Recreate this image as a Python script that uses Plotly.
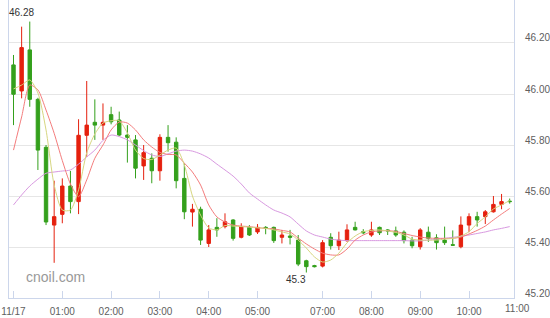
import plotly.graph_objects as go

# ---- data (10-minute candles, index positions) ----
idx = list(range(62))
opens = [46.114, 46.012, 46.173, 45.979, 45.791, 45.486, 45.528, 45.639, 45.578, 45.838,
         45.889, 45.878, 45.919, 45.898, 45.839, 45.820, 45.718, 45.748, 45.699, 45.830,
         45.811, 45.669, 45.537, 45.548, 45.414, 45.477, 45.480, 45.506, 45.438, 45.477,
         45.459, 45.477, 45.477, 45.438, 45.443, 45.427, 45.346, 45.327, 45.325, 45.438,
         45.405, 45.425, 45.477, 45.460, 45.447, 45.477, 45.467, 45.463, 45.458, 45.427,
         45.401, 45.458, 45.436, 45.427, 45.409, 45.401, 45.486, 45.519, 45.519, 45.538,
         45.567, 45.580]
highs = [46.153, 46.264, 46.284, 45.985, 45.800, 45.660, 45.669, 45.698, 45.901, 46.051,
         45.979, 45.963, 45.950, 45.931, 45.878, 45.839, 45.800, 45.767, 45.842, 45.878,
         45.830, 45.728, 45.569, 45.558, 45.486, 45.513, 45.532, 45.509, 45.493, 45.486,
         45.490, 45.482, 45.480, 45.467, 45.467, 45.447, 45.350, 45.330, 45.427, 45.454,
         45.460, 45.489, 45.499, 45.470, 45.499, 45.480, 45.470, 45.480, 45.465, 45.440,
         45.474, 45.480, 45.450, 45.480, 45.465, 45.520, 45.532, 45.538, 45.545, 45.600,
         45.608, 45.590]
lows = [45.878, 45.983, 45.950, 45.702, 45.486, 45.338, 45.493, 45.532, 45.529, 45.754,
        45.820, 45.820, 45.881, 45.835, 45.731, 45.669, 45.663, 45.650, 45.660, 45.774,
        45.630, 45.509, 45.480, 45.408, 45.400, 45.440, 45.473, 45.425, 45.434, 45.443,
        45.451, 45.450, 45.416, 45.414, 45.410, 45.325, 45.300, 45.320, 45.320, 45.390,
        45.388, 45.420, 45.465, 45.450, 45.440, 45.447, 45.447, 45.440, 45.414, 45.395,
        45.390, 45.420, 45.390, 45.408, 45.405, 45.395, 45.458, 45.480, 45.490, 45.535,
        45.548, 45.570]
closes = [45.999, 46.182, 45.979, 45.780, 45.498, 45.519, 45.639, 45.578, 45.838, 45.878,
          45.878, 45.889, 45.891, 45.839, 45.830, 45.709, 45.770, 45.699, 45.830, 45.809,
          45.660, 45.538, 45.548, 45.427, 45.467, 45.467, 45.499, 45.434, 45.480, 45.447,
          45.477, 45.473, 45.425, 45.447, 45.438, 45.333, 45.323, 45.323, 45.417, 45.405,
          45.427, 45.467, 45.467, 45.456, 45.467, 45.456, 45.463, 45.447, 45.425, 45.405,
          45.467, 45.434, 45.417, 45.417, 45.407, 45.486, 45.519, 45.506, 45.538, 45.567,
          45.578, 45.578]

ma_fast = [46.020, 46.035, 46.055, 46.004, 45.859, 45.643, 45.545, 45.545, 45.624, 45.769,
           45.843, 45.886, 45.895, 45.895, 45.847, 45.780, 45.747, 45.743, 45.761, 45.780,
           45.788, 45.722, 45.600, 45.525, 45.475, 45.467, 45.484, 45.482, 45.480, 45.478,
           45.475, 45.473, 45.467, 45.459, 45.451, 45.427, 45.396, 45.361, 45.341, 45.349,
           45.376, 45.416, 45.443, 45.460, 45.465, 45.467, 45.463, 45.457, 45.447, 45.431,
           45.427, 45.427, 45.427, 45.431, 45.434, 45.443, 45.460, 45.492, 45.518, 45.549,
           45.565, 45.582]
ma_mid = [45.780, 45.910, 46.035, 46.016, 45.937, 45.846, 45.739, 45.647, 45.597, 45.663,
          45.748, 45.800, 45.859, 45.890, 45.886, 45.859, 45.820, 45.792, 45.771, 45.763,
          45.761, 45.729, 45.694, 45.643, 45.565, 45.518, 45.498, 45.486, 45.482, 45.480,
          45.476, 45.473, 45.471, 45.465, 45.459, 45.435, 45.412, 45.392, 45.376, 45.369,
          45.369, 45.392, 45.427, 45.447, 45.459, 45.463, 45.464, 45.461, 45.453, 45.445,
          45.439, 45.435, 45.434, 45.434, 45.434, 45.439, 45.451, 45.465, 45.482, 45.506,
          45.529, 45.551]
ma_slow = [45.565, 45.604, 45.639, 45.666, 45.689, 45.694, 45.698, 45.702, 45.725, 45.753,
           45.780, 45.818, 45.839, 45.833, 45.820, 45.800, 45.778, 45.761, 45.755, 45.765,
           45.776, 45.780, 45.776, 45.765, 45.749, 45.725, 45.702, 45.678, 45.647, 45.612,
           45.588, 45.565, 45.545, 45.533, 45.518, 45.490, 45.463, 45.447, 45.439, 45.431,
           45.427, 45.425, 45.425, 45.425, 45.425, 45.425, 45.425, 45.425, 45.425, 45.424,
           45.424, 45.427, 45.431, 45.434, 45.438, 45.442, 45.447, 45.453, 45.459, 45.467,
           45.473, 45.480]

tick_pos = [0, 6, 12, 18, 24, 30, 38, 44, 50, 56]
tick_text = ["11/17", "01:00", "02:00", "03:00", "04:00", "05:00",
             "07:00", "08:00", "09:00", "10:00"]
last_tick_text = "11:00"
y_ticks = [45.2, 45.4, 45.6, 45.8, 46.0, 46.2]

RED = "#e5200e"
GREEN = "#34a01c"
FONT = "Liberation Sans, Arial, sans-serif"
LABEL = "#606060"

fig = go.Figure()
fig.add_trace(go.Candlestick(
    x=idx, open=opens, high=highs, low=lows, close=closes,
    increasing=dict(line=dict(color=RED, width=1), fillcolor=RED),
    decreasing=dict(line=dict(color=GREEN, width=1), fillcolor=GREEN),
    whiskerwidth=0, showlegend=False, hoverinfo="skip"))

for series, col in [(ma_slow, "#d898e0"), (ma_mid, "#f47c7c"), (ma_fast, "#d6d680")]:
    fig.add_trace(go.Scatter(x=idx, y=series, mode="lines",
                             line=dict(color=col, width=1, shape="spline", smoothing=0.7),
                             showlegend=False, hoverinfo="skip"))

hi = max(highs)
lo = min(lows)
hi_i = highs.index(hi)
lo_i = lows.index(lo)

def fmt(v):
    return f"{v:.2f}".rstrip("0").rstrip(".")

fig.update_layout(
    width=550, height=318,
    margin=dict(l=9, r=36, t=0, b=20),
    paper_bgcolor="white", plot_bgcolor="white",
    boxgap=0.4,
    font=dict(family=FONT, size=10, color=LABEL),
    xaxis=dict(range=[-0.553, 61.53], tickmode="array", tickvals=tick_pos, ticktext=tick_text,
               showgrid=False, zeroline=False, showline=True, linecolor="#ccd6eb",
               ticks="inside", ticklen=7, tickcolor="#ccd6eb", ticklabelstandoff=4,
               rangeslider=dict(visible=False),
               tickfont=dict(family=FONT, size=10, color=LABEL)),
    yaxis=dict(side="right", range=[45.2, 46.3686], tickmode="array", tickvals=y_ticks,
               ticktext=[f"{v:.2f}" for v in y_ticks],
               showgrid=True, gridcolor="#e6e6e6", gridwidth=1, zeroline=False,
               showline=True, linecolor="#ccd6eb", mirror=True,
               ticks="", ticklabelstandoff=8, ticklabelshift=-5,
               tickfont=dict(family=FONT, size=10, color=LABEL)),
    annotations=[
        dict(x=hi_i, y=hi, xref="x", yref="y", text=fmt(hi), showarrow=False,
             xanchor="center", yanchor="bottom", xshift=-8, yshift=2,
             font=dict(size=10, color="#333333")),
        dict(x=lo_i, y=lo, xref="x", yref="y", text=fmt(lo), showarrow=False,
             xanchor="center", yanchor="top", xshift=-10, yshift=1,
             font=dict(size=10, color="#333333")),
        dict(x=0.092, y=0.07, xref="paper", yref="paper", text="cnoil.com", showarrow=False,
             xanchor="center", yanchor="middle", font=dict(size=14, color="#999999")),
        dict(x=1.0076, y=0, xref="paper", yref="paper", text=last_tick_text, showarrow=False,
             xanchor="center", yanchor="top", yshift=-3, font=dict(size=10, color=LABEL)),
    ],
)

fig.write_html("out.html")
